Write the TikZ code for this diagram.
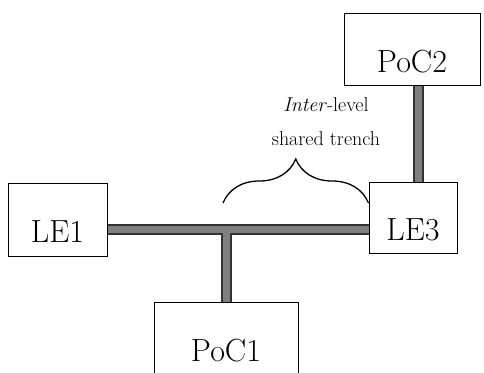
\documentclass[tikz,border=0pt]{standalone}
\usetikzlibrary{decorations.pathreplacing}

\tikzset{
  site/.style={draw, line width=1pt, inner sep=0pt,
    font=\fontsize{32}{36}\selectfont, text height=46pt, text depth=0pt},
  bracelabel/.style={align=center, font=\fontsize{20}{34}\selectfont},
}

\begin{document}
\begin{tikzpicture}[x=1pt, y=-1pt]

        \useasboundingbox (0,0) rectangle (484,372);

        % sites
        \node[site, minimum width=99pt, minimum height=73pt] (le1) at (57.5,219.5) {LE1};
        \node[site, minimum width=88pt, minimum height=71pt] (le3) at (413,217.5) {LE3};
        \node[site, minimum width=144pt, minimum height=72pt] (poc1) at (226,338) {PoC1};
        \node[site, minimum width=136pt, minimum height=72pt] (poc2) at (412,49) {PoC2};

        % trenches
        \coordinate (j) at (226,229);
        \coordinate (up) at (418,0);
        \foreach \w/\c in {11pt/black!80, 7pt/black!50}
        {
            \draw[line width=\w, draw=\c] (le1.east |- j) -- (le3.west |- j);
            \draw[line width=\w, draw=\c] (j) -- (poc1.north);
            \draw[line width=\w, draw=\c] (le3.north -| up) -- (poc2.south -| up);
        }

        % shared part
        \coordinate (bl) at (223,203);
        \draw[decorate, decoration={brace, amplitude=44pt}, line width=1.3pt]
            (bl) -- (bl -| le3.west);
        \node[bracelabel] (lbl) at (326,122) {\textit{Inter}-level\\shared trench};

\end{tikzpicture}
\end{document}
